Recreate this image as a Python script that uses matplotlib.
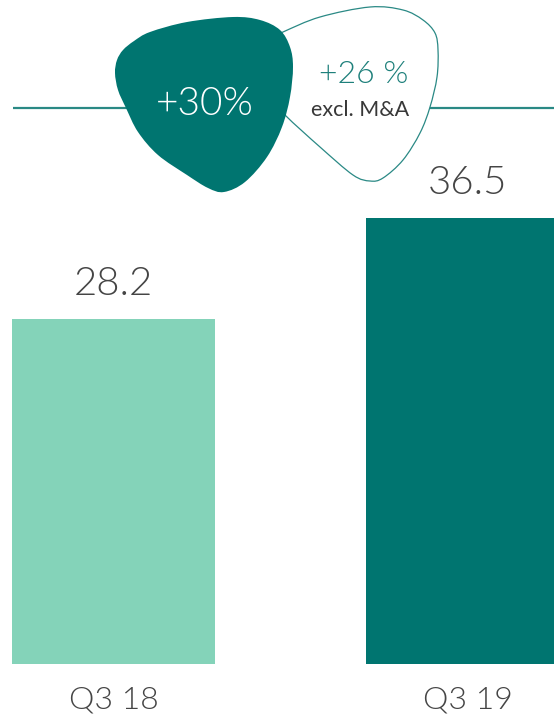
import numpy as np
import matplotlib
matplotlib.use("Agg")
import matplotlib.pyplot as plt
from matplotlib.path import Path
from matplotlib.patches import PathPatch

# ---- data ----
categories = ["Q3 18", "Q3 19"]
values = [28.2, 36.5]
value_labels = ["28.2", "36.5"]
bar_colors = ["#84D3B9", "#007570"]
growth_label = "+30%"
growth_exMA_label = "+26 %"
growth_exMA_note = "excl. M&A"

FONT = "Lato"
W = 300
TEXT_GRAY = "#454545"
TEAL = "#007570"
TEAL_LINE = "#2A8985"

fig = plt.figure(figsize=(5.54, 7.21), dpi=100)
ax = fig.add_axes([0, 0, 1, 1])
x = np.arange(len(categories))
ax.bar(x, values, width=0.5734, color=bar_colors, linewidth=0, zorder=2)
ax.set_xlim(-0.3206, 1.2444)
ax.set_ylim(-4.665, 54.34)
ax.axis("off")

for xi, v, lab in zip(x, values, value_labels):
    ax.annotate(lab, (xi, v), xytext=(0, 17.6), textcoords="offset points",
                ha="center", va="baseline", fontsize=29, color=TEXT_GRAY,
                family=FONT, fontweight=W)
for xi, cat in zip(x, categories):
    ax.annotate(cat, (xi, 0), xytext=(0, -31.7), textcoords="offset points",
                ha="center", va="baseline", fontsize=23, color=TEXT_GRAY,
                family=FONT, fontweight=W)

# ---- decorative overlay in pixel units ----
ov = fig.add_axes([0, 0, 1, 1], zorder=5)
ov.set_xlim(0, 554)
ov.set_ylim(721, 0)
ov.patch.set_alpha(0)
ov.axis("off")


def smooth_closed(pts, tension=1.0):
    pts = np.asarray(pts, float)
    n = len(pts)
    verts = [pts[0]]
    codes = [Path.MOVETO]
    for i in range(n):
        p0 = pts[(i - 1) % n]
        p1 = pts[i]
        p2 = pts[(i + 1) % n]
        p3 = pts[(i + 2) % n]
        c1 = p1 + (p2 - p0) / 6.0 * tension
        c2 = p2 - (p3 - p1) / 6.0 * tension
        verts += [c1, c2, p2]
        codes += [Path.CURVE4] * 3
    return Path(verts, codes)


dark_shape = [(115, 73), (117, 60), (123, 50), (134, 41), (150, 32), (187, 22),
              (233, 17), (260, 20), (280, 30), (290, 47), (293, 67), (290, 97),
              (282, 127), (267, 157), (245, 182), (224, 192), (208, 188),
              (187, 175), (158, 155), (138, 132), (126, 108), (118, 90)]
light_shape = [(252, 58), (263, 42), (283, 32), (320, 17), (370, 7), (403, 10),
               (423, 20), (435, 33), (438, 50), (437, 77), (430, 107),
               (420, 133), (403, 160), (383, 178), (370, 181), (353, 175),
               (320, 147), (285, 115), (265, 92), (253, 74)]

ov.plot([13, 554], [108, 108], color=TEAL_LINE, lw=1.6, solid_capstyle="butt", zorder=1)
ov.add_patch(PathPatch(smooth_closed(light_shape), facecolor="white",
                       edgecolor=TEAL_LINE, lw=0.9, zorder=2))
ov.add_patch(PathPatch(smooth_closed(dark_shape), facecolor=TEAL,
                       edgecolor="none", zorder=3))

ov.text(204.5, 115, growth_label, ha="center", va="baseline", fontsize=28,
        color="white", family=FONT, fontweight=W, zorder=4)
ov.text(364, 83, growth_exMA_label, ha="center", va="baseline", fontsize=23,
        color="#1E807B", family=FONT, fontweight=W, zorder=4)
ov.text(360, 116, growth_exMA_note, ha="center", va="baseline", fontsize=15.5,
        color="#383838", family=FONT, fontweight="normal", zorder=4)

fig.savefig("out.png", dpi=100)
